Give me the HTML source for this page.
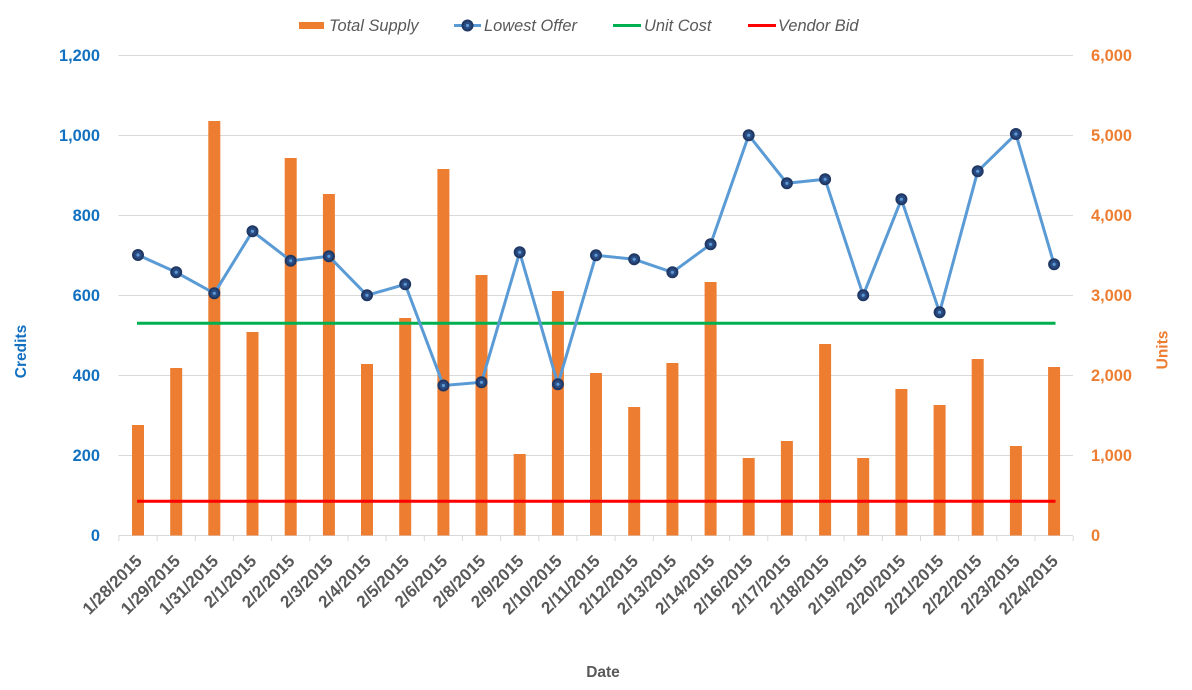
<!DOCTYPE html>
<html>
<head>
<meta charset="utf-8">
<style>
  html, body { margin: 0; padding: 0; background: #ffffff; }
  svg { display: block; }
  text { font-family: "Liberation Sans", Arial, sans-serif; }
</style>
</head>
<body>
<svg width="1192" height="690" viewBox="0 0 1192 690" xmlns="http://www.w3.org/2000/svg">
  <rect x="0" y="0" width="1192" height="690" fill="#ffffff"/>

  <!-- Legend -->
  <g font-size="16.4" font-style="italic" fill="#595959">
    <rect x="299" y="22" width="25" height="7" fill="#ED7D31"/>
    <text x="329" y="31">Total Supply</text>
    <line x1="454" y1="25.5" x2="481" y2="25.5" stroke="#5B9BD5" stroke-width="3"/>
    <circle cx="467.5" cy="25.5" r="5" fill="#2A4A82" stroke="#1F3864" stroke-width="2"/>
    <circle cx="467.5" cy="25.5" r="1.6" fill="#5B9BD5"/>
    <text x="484" y="31">Lowest Offer</text>
    <line x1="613" y1="25.5" x2="641" y2="25.5" stroke="#00B050" stroke-width="3"/>
    <text x="644" y="31">Unit Cost</text>
    <line x1="748" y1="25.5" x2="776" y2="25.5" stroke="#FF0000" stroke-width="3"/>
    <text x="778" y="31">Vendor Bid</text>
  </g>

  <!-- Gridlines -->
  <g stroke="#D9D9D9" stroke-width="1">
    <line x1="118.5" y1="55.5" x2="1073" y2="55.5"/>
    <line x1="118.5" y1="135.5" x2="1073" y2="135.5"/>
    <line x1="118.5" y1="215.5" x2="1073" y2="215.5"/>
    <line x1="118.5" y1="295.5" x2="1073" y2="295.5"/>
    <line x1="118.5" y1="375.5" x2="1073" y2="375.5"/>
    <line x1="118.5" y1="455.5" x2="1073" y2="455.5"/>
    <line x1="118.5" y1="535.5" x2="1073" y2="535.5"/>
  </g>
  <!-- Ticks -->
  <g stroke="#D9D9D9" stroke-width="1">
    <line x1="118.9" y1="536" x2="118.9" y2="541"/>
    <line x1="157.1" y1="536" x2="157.1" y2="541"/>
    <line x1="195.3" y1="536" x2="195.3" y2="541"/>
    <line x1="233.4" y1="536" x2="233.4" y2="541"/>
    <line x1="271.6" y1="536" x2="271.6" y2="541"/>
    <line x1="309.8" y1="536" x2="309.8" y2="541"/>
    <line x1="348.0" y1="536" x2="348.0" y2="541"/>
    <line x1="386.1" y1="536" x2="386.1" y2="541"/>
    <line x1="424.3" y1="536" x2="424.3" y2="541"/>
    <line x1="462.4" y1="536" x2="462.4" y2="541"/>
    <line x1="500.6" y1="536" x2="500.6" y2="541"/>
    <line x1="538.8" y1="536" x2="538.8" y2="541"/>
    <line x1="576.9" y1="536" x2="576.9" y2="541"/>
    <line x1="615.1" y1="536" x2="615.1" y2="541"/>
    <line x1="653.3" y1="536" x2="653.3" y2="541"/>
    <line x1="691.5" y1="536" x2="691.5" y2="541"/>
    <line x1="729.6" y1="536" x2="729.6" y2="541"/>
    <line x1="767.8" y1="536" x2="767.8" y2="541"/>
    <line x1="805.9" y1="536" x2="805.9" y2="541"/>
    <line x1="844.1" y1="536" x2="844.1" y2="541"/>
    <line x1="882.3" y1="536" x2="882.3" y2="541"/>
    <line x1="920.5" y1="536" x2="920.5" y2="541"/>
    <line x1="958.6" y1="536" x2="958.6" y2="541"/>
    <line x1="996.8" y1="536" x2="996.8" y2="541"/>
    <line x1="1035.0" y1="536" x2="1035.0" y2="541"/>
    <line x1="1073.2" y1="536" x2="1073.2" y2="541"/>
  </g>

  <!-- Bars (Total Supply) -->
  <g fill="#ED7D31">
    <rect x="132.0" y="425" width="12" height="110.5"/>
    <rect x="170.2" y="368" width="12" height="167.5"/>
    <rect x="208.3" y="121" width="12" height="414.5"/>
    <rect x="246.5" y="332" width="12" height="203.5"/>
    <rect x="284.7" y="158" width="12" height="377.5"/>
    <rect x="322.9" y="194" width="12" height="341.5"/>
    <rect x="361.0" y="364" width="12" height="171.5"/>
    <rect x="399.2" y="318" width="12" height="217.5"/>
    <rect x="437.4" y="169" width="12" height="366.5"/>
    <rect x="475.5" y="275" width="12" height="260.5"/>
    <rect x="513.7" y="454" width="12" height="81.5"/>
    <rect x="551.9" y="291" width="12" height="244.5"/>
    <rect x="590.0" y="373" width="12" height="162.5"/>
    <rect x="628.2" y="407" width="12" height="128.5"/>
    <rect x="666.4" y="363" width="12" height="172.5"/>
    <rect x="704.6" y="282" width="12" height="253.5"/>
    <rect x="742.7" y="458" width="12" height="77.5"/>
    <rect x="780.9" y="441" width="12" height="94.5"/>
    <rect x="819.1" y="344" width="12" height="191.5"/>
    <rect x="857.2" y="458" width="12" height="77.5"/>
    <rect x="895.4" y="389" width="12" height="146.5"/>
    <rect x="933.6" y="405" width="12" height="130.5"/>
    <rect x="971.7" y="359" width="12" height="176.5"/>
    <rect x="1009.9" y="446" width="12" height="89.5"/>
    <rect x="1048.1" y="367" width="12" height="168.5"/>
  </g>

  <!-- Unit Cost & Vendor Bid -->
  <line x1="137" y1="323.3" x2="1055.5" y2="323.3" stroke="#00B050" stroke-width="3"/>
  <line x1="137" y1="501.3" x2="1055.5" y2="501.3" stroke="#FF0000" stroke-width="3"/>

  <!-- Lowest Offer line -->
  <polyline fill="none" stroke="#5B9BD5" stroke-width="3" stroke-linejoin="round"
    points="138.0,255 176.2,272.3 214.3,293.3 252.5,231.3 290.7,260.7 328.9,256.3 367.0,295.3 405.2,284.3 443.4,385.5 481.5,382.3 519.7,252.3 557.9,384.3 596.0,255.3 634.2,259.3 672.4,272.3 710.6,244.3 748.7,135.2 786.9,183.3 825.1,179.3 863.2,295.3 901.4,199.3 939.6,312.3 977.7,171.3 1015.9,134 1054.1,264.3"/>

  <!-- Markers -->
  <g fill="#2A4A82" stroke="#1F3864" stroke-width="2">
    <circle cx="138.0" cy="255" r="5"/>
    <circle cx="176.2" cy="272.3" r="5"/>
    <circle cx="214.3" cy="293.3" r="5"/>
    <circle cx="252.5" cy="231.3" r="5"/>
    <circle cx="290.7" cy="260.7" r="5"/>
    <circle cx="328.9" cy="256.3" r="5"/>
    <circle cx="367.0" cy="295.3" r="5"/>
    <circle cx="405.2" cy="284.3" r="5"/>
    <circle cx="443.4" cy="385.5" r="5"/>
    <circle cx="481.5" cy="382.3" r="5"/>
    <circle cx="519.7" cy="252.3" r="5"/>
    <circle cx="557.9" cy="384.3" r="5"/>
    <circle cx="596.0" cy="255.3" r="5"/>
    <circle cx="634.2" cy="259.3" r="5"/>
    <circle cx="672.4" cy="272.3" r="5"/>
    <circle cx="710.6" cy="244.3" r="5"/>
    <circle cx="748.7" cy="135.2" r="5"/>
    <circle cx="786.9" cy="183.3" r="5"/>
    <circle cx="825.1" cy="179.3" r="5"/>
    <circle cx="863.2" cy="295.3" r="5"/>
    <circle cx="901.4" cy="199.3" r="5"/>
    <circle cx="939.6" cy="312.3" r="5"/>
    <circle cx="977.7" cy="171.3" r="5"/>
    <circle cx="1015.9" cy="134" r="5"/>
    <circle cx="1054.1" cy="264.3" r="5"/>
  </g>
  <g fill="#5B9BD5">
    <circle cx="138.0" cy="255" r="1.6"/>
    <circle cx="176.2" cy="272.3" r="1.6"/>
    <circle cx="214.3" cy="293.3" r="1.6"/>
    <circle cx="252.5" cy="231.3" r="1.6"/>
    <circle cx="290.7" cy="260.7" r="1.6"/>
    <circle cx="328.9" cy="256.3" r="1.6"/>
    <circle cx="367.0" cy="295.3" r="1.6"/>
    <circle cx="405.2" cy="284.3" r="1.6"/>
    <circle cx="443.4" cy="385.5" r="1.6"/>
    <circle cx="481.5" cy="382.3" r="1.6"/>
    <circle cx="519.7" cy="252.3" r="1.6"/>
    <circle cx="557.9" cy="384.3" r="1.6"/>
    <circle cx="596.0" cy="255.3" r="1.6"/>
    <circle cx="634.2" cy="259.3" r="1.6"/>
    <circle cx="672.4" cy="272.3" r="1.6"/>
    <circle cx="710.6" cy="244.3" r="1.6"/>
    <circle cx="748.7" cy="135.2" r="1.6"/>
    <circle cx="786.9" cy="183.3" r="1.6"/>
    <circle cx="825.1" cy="179.3" r="1.6"/>
    <circle cx="863.2" cy="295.3" r="1.6"/>
    <circle cx="901.4" cy="199.3" r="1.6"/>
    <circle cx="939.6" cy="312.3" r="1.6"/>
    <circle cx="977.7" cy="171.3" r="1.6"/>
    <circle cx="1015.9" cy="134" r="1.6"/>
    <circle cx="1054.1" cy="264.3" r="1.6"/>
  </g>

  <!-- Left axis labels -->
  <g font-size="16.4" font-weight="bold" fill="#1170C0" text-anchor="end">
    <text x="100" y="61">1,200</text>
    <text x="100" y="141">1,000</text>
    <text x="100" y="221">800</text>
    <text x="100" y="301">600</text>
    <text x="100" y="381">400</text>
    <text x="100" y="461">200</text>
    <text x="100" y="541">0</text>
  </g>
  <!-- Right axis labels -->
  <g font-size="16.4" font-weight="bold" fill="#ED7D31" text-anchor="start">
    <text x="1091" y="61">6,000</text>
    <text x="1091" y="141">5,000</text>
    <text x="1091" y="221">4,000</text>
    <text x="1091" y="301">3,000</text>
    <text x="1091" y="381">2,000</text>
    <text x="1091" y="461">1,000</text>
    <text x="1091" y="541">0</text>
  </g>

  <!-- Axis titles -->
  <text x="0" y="0" font-size="15.5" font-weight="bold" fill="#1170C0" text-anchor="middle" transform="translate(26,351.5) rotate(-90)">Credits</text>
  <text x="0" y="0" font-size="15.5" font-weight="bold" fill="#ED7D31" text-anchor="middle" transform="translate(1167.5,350) rotate(-90)">Units</text>
  <text x="603" y="677" font-size="15.5" font-weight="bold" fill="#595959" text-anchor="middle">Date</text>

  <!-- X axis category labels -->
  <g font-size="17" font-weight="bold" fill="#595959" text-anchor="end">
    <text transform="translate(143.0,562) rotate(-45)">1/28/2015</text>
    <text transform="translate(181.2,562) rotate(-45)">1/29/2015</text>
    <text transform="translate(219.3,562) rotate(-45)">1/31/2015</text>
    <text transform="translate(257.5,562) rotate(-45)">2/1/2015</text>
    <text transform="translate(295.7,562) rotate(-45)">2/2/2015</text>
    <text transform="translate(333.9,562) rotate(-45)">2/3/2015</text>
    <text transform="translate(372.0,562) rotate(-45)">2/4/2015</text>
    <text transform="translate(410.2,562) rotate(-45)">2/5/2015</text>
    <text transform="translate(448.4,562) rotate(-45)">2/6/2015</text>
    <text transform="translate(486.5,562) rotate(-45)">2/8/2015</text>
    <text transform="translate(524.7,562) rotate(-45)">2/9/2015</text>
    <text transform="translate(562.9,562) rotate(-45)">2/10/2015</text>
    <text transform="translate(601.0,562) rotate(-45)">2/11/2015</text>
    <text transform="translate(639.2,562) rotate(-45)">2/12/2015</text>
    <text transform="translate(677.4,562) rotate(-45)">2/13/2015</text>
    <text transform="translate(715.6,562) rotate(-45)">2/14/2015</text>
    <text transform="translate(753.7,562) rotate(-45)">2/16/2015</text>
    <text transform="translate(791.9,562) rotate(-45)">2/17/2015</text>
    <text transform="translate(830.1,562) rotate(-45)">2/18/2015</text>
    <text transform="translate(868.2,562) rotate(-45)">2/19/2015</text>
    <text transform="translate(906.4,562) rotate(-45)">2/20/2015</text>
    <text transform="translate(944.6,562) rotate(-45)">2/21/2015</text>
    <text transform="translate(982.7,562) rotate(-45)">2/22/2015</text>
    <text transform="translate(1020.9,562) rotate(-45)">2/23/2015</text>
    <text transform="translate(1059.1,562) rotate(-45)">2/24/2015</text>
  </g>
</svg>
</body>
</html>
